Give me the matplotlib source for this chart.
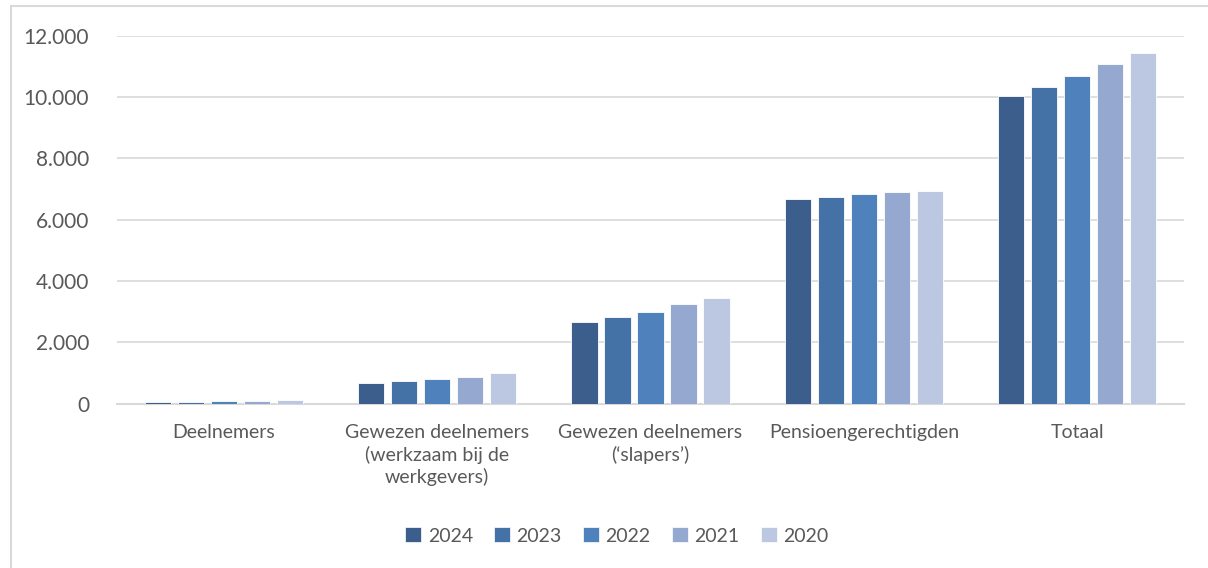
import numpy as np
import matplotlib
matplotlib.use("Agg")
import matplotlib.pyplot as plt
from matplotlib.patches import Rectangle, Patch
from matplotlib.ticker import FuncFormatter

# --- DATA ---
categories = ["Deelnemers",
              "Gewezen deelnemers\n(werkzaam bij de\nwerkgevers)",
              "Gewezen deelnemers\n(\u2018slapers\u2019)",
              "Pensioengerechtigden",
              "Totaal"]
years = ["2024", "2023", "2022", "2021", "2020"]
v2024 = [45, 655, 2660, 6675, 10020]
v2023 = [55, 735, 2815, 6750, 10340]
v2022 = [75, 810, 3000, 6825, 10700]
v2021 = [85, 865, 3250, 6890, 11090]
v2020 = [110, 985, 3445, 6920, 11450]
series = [v2024, v2023, v2022, v2021, v2020]

colors = ["#3B5E8C", "#4472A6", "#4F81BD", "#95A9D0", "#BCC8E2"]
TXT = "#595959"
GRID = "#D9D9D9"

plt.rcParams["font.family"] = ["Lato", "DejaVu Sans"]

fig = plt.figure(figsize=(12.08, 5.68), dpi=100)
ax = fig.add_axes([117 / 1208, 1 - 403.5 / 568, (1184 - 117) / 1208, (403.5 - 35.7) / 568])

x = np.arange(len(categories))
step = 0.1546
width = 0.122
for i, (vals, c) in enumerate(zip(series, colors)):
    ax.bar(x + (i - 2) * step, vals, width=width, color=c,
           edgecolor="white", linewidth=0.6, label=years[i], zorder=3)

ax.set_xlim(-0.5, len(categories) - 0.5)
ax.set_ylim(0, 12000)
ax.set_yticks(range(0, 12001, 2000))
ax.yaxis.set_major_formatter(FuncFormatter(lambda v, p: f"{int(v):,}".replace(",", ".")))
ax.grid(axis="y", color=GRID, linewidth=1.2, zorder=0)
ax.set_xticks(x)
ax.set_xticklabels(categories, linespacing=1.3, fontsize=14)
ax.tick_params(axis="both", length=0, colors=TXT)
ax.tick_params(axis="y", pad=20, labelsize=15)
ax.tick_params(axis="x", pad=15)
for s in ["top", "right", "left"]:
    ax.spines[s].set_visible(False)
ax.spines["bottom"].set_color(GRID)
ax.spines["bottom"].set_linewidth(1.5)

handles = [Patch(facecolor=c, edgecolor="white", linewidth=0.5) for c in colors]
fig.legend(handles, years, loc="center", bbox_to_anchor=(617 / 1208, 1 - 536 / 568),
           ncol=5, frameon=False, fontsize=14, labelcolor=TXT,
           handlelength=0.8, handleheight=0.8, handletextpad=0.35, columnspacing=1.1)

# chart frame (cut by the picture on the right and bottom)
fig.patches.append(Rectangle((10.5 / 1208, -0.1), 2, 1 - 6.5 / 568 + 0.1,
                             transform=fig.transFigure, fill=False,
                             edgecolor=GRID, linewidth=1.5))

fig.savefig("out.png", dpi=100)
